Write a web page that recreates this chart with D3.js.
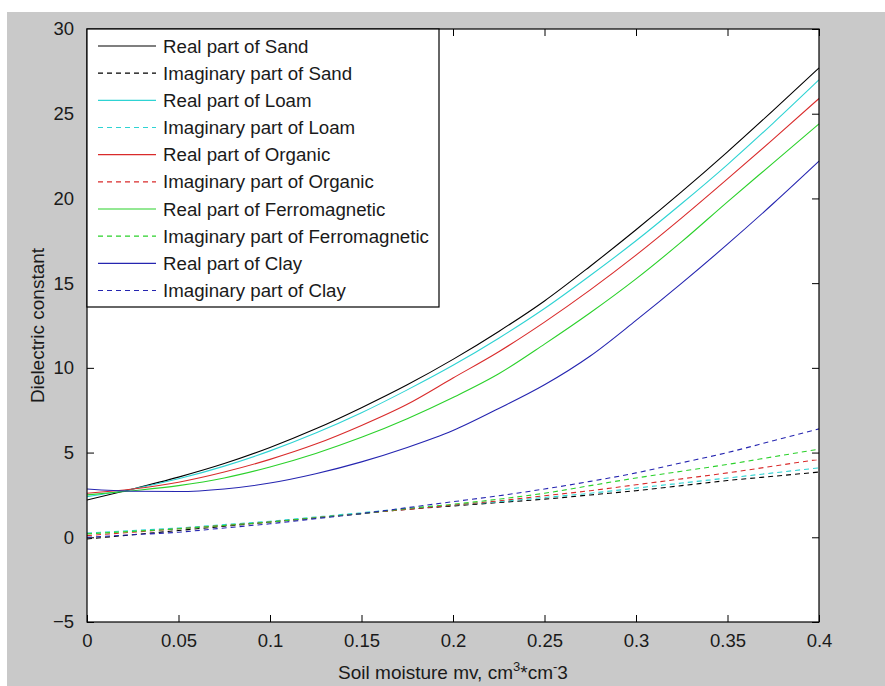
<!DOCTYPE html>
<html>
<head>
<meta charset="utf-8">
<script src="https://cdn.jsdelivr.net/npm/d3@7"></script>
<style>
  html, body { margin: 0; padding: 0; background: #ffffff; }
  svg { display: block; font-family: "Liberation Sans", Arial, sans-serif; }
</style>
</head>
<body>
<svg id="chart" width="885" height="686"></svg>
<script>
// Soil moisture samples (cm^3/cm^3)
const moisture = [0, 0.025, 0.05, 0.075, 0.1, 0.125, 0.15, 0.175, 0.2, 0.225, 0.25, 0.275, 0.3, 0.325, 0.35, 0.375, 0.4];

// Real parts of the dielectric constant
const realSand    = [2.2, 2.85, 3.55, 4.35, 5.3, 6.4, 7.65, 9.0, 10.5, 12.15, 13.95, 16.0, 18.15, 20.4, 22.75, 25.2, 27.7];
const realLoam    = [2.4, 2.85, 3.45, 4.2, 5.1, 6.15, 7.35, 8.7, 10.15, 11.75, 13.5, 15.45, 17.5, 19.7, 22.0, 24.45, 27.0];
const realOrganic = [2.6, 2.85, 3.25, 3.85, 4.6, 5.5, 6.6, 7.85, 9.4, 10.95, 12.7, 14.6, 16.65, 18.85, 21.15, 23.5, 25.9];
const realFerro   = [2.5, 2.75, 3.05, 3.5, 4.15, 4.95, 5.9, 7.0, 8.25, 9.65, 11.4, 13.25, 15.25, 17.45, 19.8, 22.1, 24.4];
const realClay    = [2.85, 2.72, 2.7, 2.85, 3.2, 3.75, 4.45, 5.3, 6.3, 7.6, 9.0, 10.7, 12.8, 15.0, 17.3, 19.7, 22.2];

// Imaginary parts of the dielectric constant
const imagSand    = [-0.1, 0.15, 0.4, 0.65, 0.9, 1.15, 1.4, 1.65, 1.85, 2.05, 2.25, 2.5, 2.75, 3.05, 3.35, 3.6, 3.85];
const imagLoam    = [0.25, 0.4, 0.55, 0.75, 0.95, 1.2, 1.45, 1.7, 1.9, 2.1, 2.35, 2.6, 2.9, 3.2, 3.5, 3.8, 4.1];
const imagOrganic = [0.1, 0.3, 0.5, 0.7, 0.9, 1.15, 1.4, 1.65, 1.9, 2.15, 2.45, 2.75, 3.1, 3.45, 3.8, 4.2, 4.6];
const imagFerro   = [0.2, 0.35, 0.5, 0.7, 0.9, 1.15, 1.4, 1.7, 1.95, 2.25, 2.6, 3.05, 3.5, 3.9, 4.3, 4.75, 5.2];
const imagClay    = [0.0, 0.15, 0.3, 0.55, 0.8, 1.1, 1.4, 1.75, 2.1, 2.45, 2.85, 3.3, 3.8, 4.4, 5.0, 5.7, 6.4];

const xTicks = [0, 0.05, 0.1, 0.15, 0.2, 0.25, 0.3, 0.35, 0.4];
const yTicks = [-5, 0, 5, 10, 15, 20, 25, 30];

const seriesNames = [
  "Real part of Sand", "Imaginary part of Sand",
  "Real part of Loam", "Imaginary part of Loam",
  "Real part of Organic", "Imaginary part of Organic",
  "Real part of Ferromagnetic", "Imaginary part of Ferromagnetic",
  "Real part of Clay", "Imaginary part of Clay"
];
const seriesValues = [realSand, imagSand, realLoam, imagLoam, realOrganic, imagOrganic,
                      realFerro, imagFerro, realClay, imagClay];
const seriesColors = ["#000000", "#000000", "#2ed3d3", "#2ed3d3", "#d92b2b", "#d92b2b",
                      "#2bd12b", "#2bd12b", "#2525b0", "#2525b0"];
const seriesDashed = [false, true, false, true, false, true, false, true, false, true];

const svg = d3.select("#chart");
const W = 885, H = 686;
const plot = { left: 87, right: 819, top: 29, bottom: 622 };
const textFont = '"Liberation Sans", Arial, sans-serif';

// figure background
svg.append("rect").attr("x", 7).attr("y", 12).attr("width", W - 7).attr("height", H - 12)
  .attr("fill", "#c9c9c9");

const x = d3.scaleLinear().domain([0, 0.4]).range([plot.left, plot.right]);
const y = d3.scaleLinear().domain([-5, 30]).range([plot.bottom, plot.top]);

// axes background
svg.append("rect")
  .attr("x", plot.left).attr("y", plot.top)
  .attr("width", plot.right - plot.left).attr("height", plot.bottom - plot.top)
  .attr("fill", "#ffffff");

const tickLen = 7;
const fmtX = d => d === 0 ? "0" : String(d);

// bottom axis with inward ticks
const gx = svg.append("g").attr("transform", `translate(0,${plot.bottom})`)
  .call(d3.axisBottom(x).tickValues(xTicks).tickFormat(fmtX).tickSizeInner(-tickLen).tickSizeOuter(0).tickPadding(12));
// top axis, ticks only
const gxt = svg.append("g").attr("transform", `translate(0,${plot.top})`)
  .call(d3.axisTop(x).tickValues(xTicks).tickFormat("").tickSizeInner(-tickLen).tickSizeOuter(0));
// left axis
const gy = svg.append("g").attr("transform", `translate(${plot.left},0)`)
  .call(d3.axisLeft(y).tickValues(yTicks).tickSizeInner(-tickLen).tickSizeOuter(0).tickPadding(13));
// right axis, ticks only
const gyr = svg.append("g").attr("transform", `translate(${plot.right},0)`)
  .call(d3.axisRight(y).tickValues(yTicks).tickFormat("").tickSizeInner(-tickLen).tickSizeOuter(0));

[gx, gxt, gy, gyr].forEach(g => {
  g.select(".domain").remove();
  g.selectAll(".tick line").attr("stroke", "#000").attr("stroke-width", 1);
  g.selectAll("text").attr("fill", "#1a1a1a").style("font-size", "18.5px")
    .style("font-family", textFont);
});

// series lines
const line = d3.line()
  .x((d, i) => x(moisture[i]))
  .y(d => y(d))
  .curve(d3.curveMonotoneX);

const linesG = svg.append("g");
seriesValues.forEach((vals, k) => {
  linesG.append("path")
    .datum(vals)
    .attr("d", line)
    .attr("fill", "none")
    .attr("stroke", seriesColors[k])
    .attr("stroke-width", 1.1)
    .attr("stroke-dasharray", seriesDashed[k] ? "5,4" : null);
});

// axes box
svg.append("rect")
  .attr("x", plot.left).attr("y", plot.top)
  .attr("width", plot.right - plot.left).attr("height", plot.bottom - plot.top)
  .attr("fill", "none").attr("stroke", "#000").attr("stroke-width", 1.2);

// legend
const legend = svg.append("g");
const legBox = { x: plot.left, y: plot.top, w: 352, h: 278 };
legend.append("rect")
  .attr("x", legBox.x).attr("y", legBox.y).attr("width", legBox.w).attr("height", legBox.h)
  .attr("fill", "#ffffff").attr("stroke", "#000").attr("stroke-width", 1.2);
const rowY = d3.scaleLinear().domain([0, 9]).range([plot.top + 17, plot.top + 261.5]);
seriesNames.forEach((name, k) => {
  const yy = rowY(k);
  legend.append("line")
    .attr("x1", 98).attr("x2", 156).attr("y1", yy).attr("y2", yy)
    .attr("stroke", seriesColors[k]).attr("stroke-width", 1.1)
    .attr("stroke-dasharray", seriesDashed[k] ? "5,4" : null);
  legend.append("text")
    .attr("x", 163).attr("y", yy).attr("dy", "0.35em")
    .attr("fill", "#1a1a1a").style("font-size", "18.7px")
    .text(name);
});

// axis titles
const xLabel = svg.append("text")
  .attr("x", (plot.left + plot.right) / 2).attr("y", 679)
  .attr("text-anchor", "middle").attr("fill", "#1a1a1a").style("font-size", "19px");
xLabel.append("tspan").text("Soil moisture mv, cm");
xLabel.append("tspan").attr("dy", -8).style("font-size", "13px").text("3");
xLabel.append("tspan").attr("dy", 8).text("*cm");
xLabel.append("tspan").attr("dy", -8).style("font-size", "13px").text("-");
xLabel.append("tspan").attr("dy", 8).text("3");

svg.append("text")
  .attr("transform", `translate(44,${(plot.top + plot.bottom) / 2}) rotate(-90)`)
  .attr("text-anchor", "middle").attr("fill", "#1a1a1a").style("font-size", "19px")
  .text("Dielectric constant");
</script>
</body>
</html>
